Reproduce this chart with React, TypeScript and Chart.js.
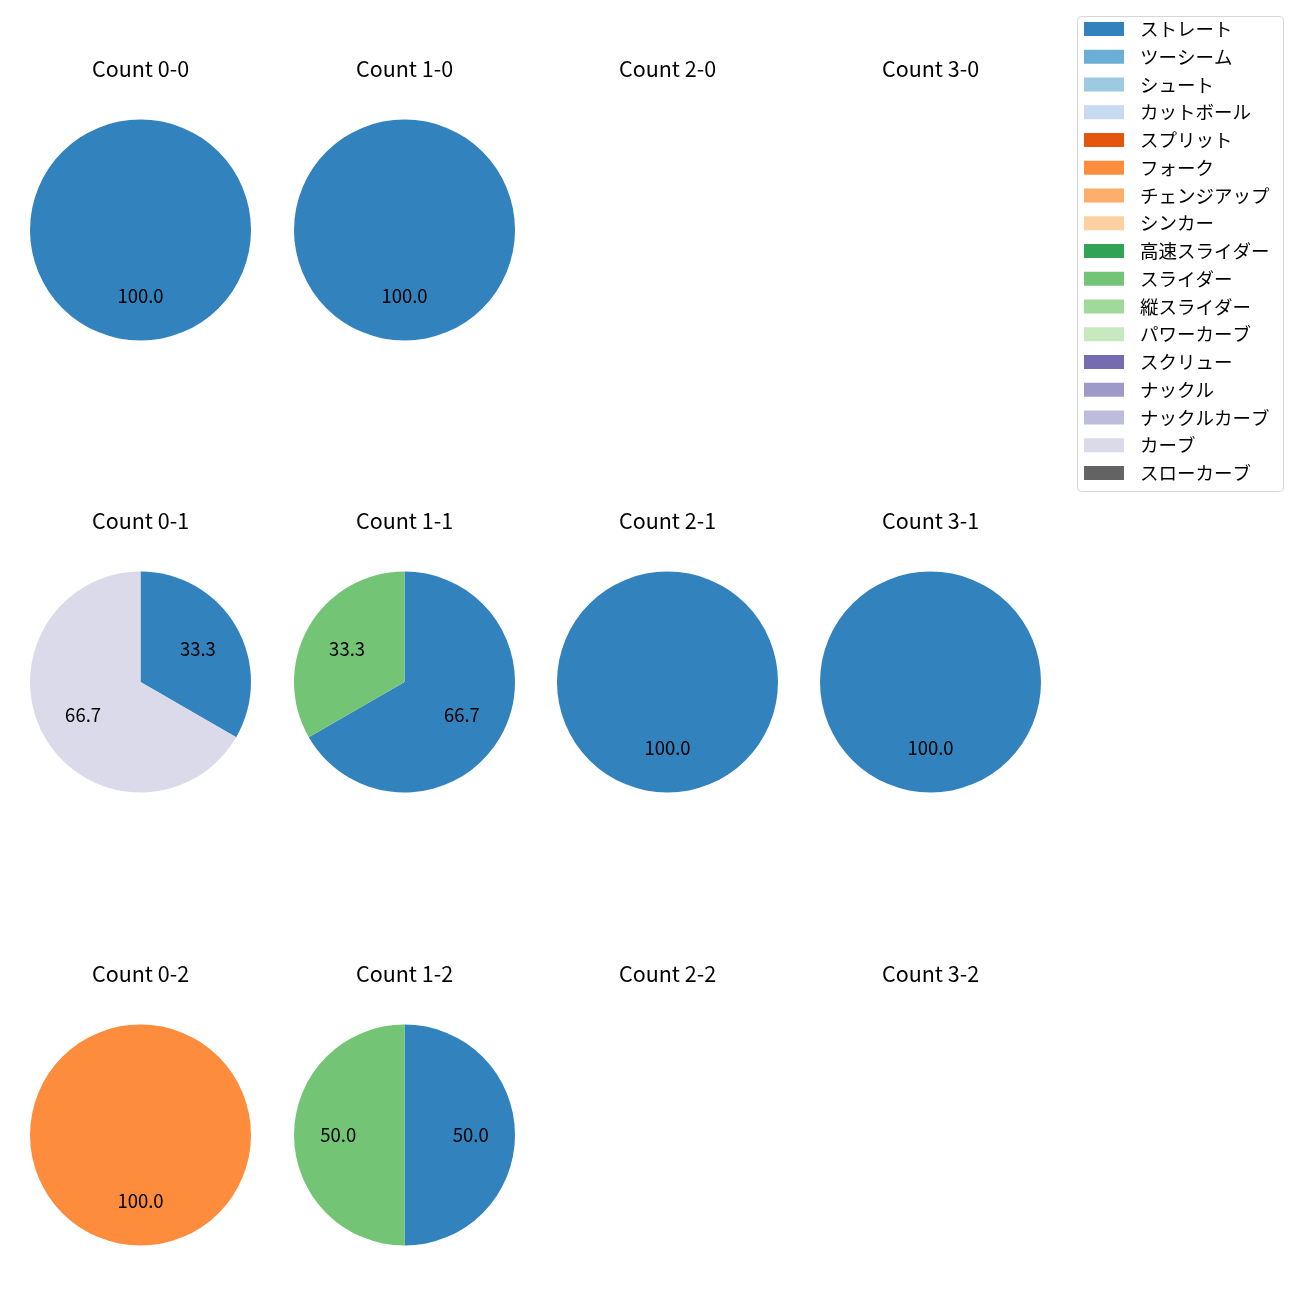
import React, { useEffect, useRef } from "react";
import { Chart, registerables } from "chart.js";

Chart.register(...registerables);

const pitchTypes = [
  "ストレート", "ツーシーム", "シュート", "カットボール", "スプリット", "フォーク",
  "チェンジアップ", "シンカー", "高速スライダー", "スライダー", "縦スライダー",
  "パワーカーブ", "スクリュー", "ナックル", "ナックルカーブ", "カーブ", "スローカーブ",
];
const pitchColors = [
  "#3182bd", "#6baed6", "#9ecae1", "#c6dbef", "#e6550d", "#fd8d3c",
  "#fdae6b", "#fdd0a2", "#31a354", "#74c476", "#a1d99b", "#c7e9c0",
  "#756bb1", "#9e9ac8", "#bcbddc", "#dadaeb", "#636363",
];

const balls = [0, 1, 2, 3];
const strikes = [0, 1, 2];

// pitches thrown in each ball-strike count
const count00 = { ストレート: 1 };
const count10 = { ストレート: 1 };
const count20 = {};
const count30 = {};
const count01 = { ストレート: 1, カーブ: 2 };
const count11 = { ストレート: 2, スライダー: 1 };
const count21 = { ストレート: 1 };
const count31 = { ストレート: 1 };
const count02 = { フォーク: 1 };
const count12 = { ストレート: 1, スライダー: 1 };
const count22 = {};
const count32 = {};

const countData: Record<string, Record<string, number>> = {
  "0-0": count00, "1-0": count10, "2-0": count20, "3-0": count30,
  "0-1": count01, "1-1": count11, "2-1": count21, "3-1": count31,
  "0-2": count02, "1-2": count12, "2-2": count22, "3-2": count32,
};

const FONT = '"Noto Sans CJK JP", "Noto Sans", sans-serif';
const colCenters = [140.5, 404, 667, 930];
const rowCenters = [229.5, 682, 1134.5];
const R = 110.5;
const CW = 263;
const CH = 400;

const pctPlugin = {
  id: "pctLabels",
  afterDatasetsDraw(chart: any) {
    const ds = chart.data.datasets[0].data as number[];
    const total = ds.reduce((a, b) => a + b, 0);
    if (!total) return;
    const meta = chart.getDatasetMeta(0);
    const ctx = chart.ctx;
    ctx.save();
    ctx.font = `18.5px ${FONT}`;
    ctx.fillStyle = "#000";
    ctx.textAlign = "center";
    ctx.textBaseline = "middle";
    meta.data.forEach((arc: any, i: number) => {
      const v = ds[i];
      if (!v) return;
      const mid = (arc.startAngle + arc.endAngle) / 2;
      const x = arc.x + 0.6 * arc.outerRadius * Math.cos(mid);
      const y = arc.y + 0.6 * arc.outerRadius * Math.sin(mid);
      ctx.fillText(((v / total) * 100).toFixed(1), x, y);
    });
    ctx.restore();
  },
};

const titlePlugin = {
  id: "cellTitle",
  afterDraw(chart: any) {
    const t = chart.options.plugins.cellTitle?.text;
    if (!t) return;
    const ctx = chart.ctx;
    ctx.save();
    ctx.font = `21.5px ${FONT}`;
    ctx.fillStyle = "#000";
    ctx.textAlign = "center";
    ctx.textBaseline = "middle";
    ctx.fillText(t, CW / 2, CH / 2 - (rowCenters[0] - 68.5));
    ctx.restore();
  },
};

const legendPlugin = {
  id: "boxLegend",
  afterDraw(chart: any) {
    const ctx = chart.ctx;
    const labels = chart.data.labels as string[];
    const colors = chart.data.datasets[0].backgroundColor as string[];
    ctx.save();
    const bx = 7.5, by = 6.5, bw = 206, bh = 475, rr = 4;
    ctx.beginPath();
    ctx.moveTo(bx + rr, by);
    ctx.lineTo(bx + bw - rr, by);
    ctx.arcTo(bx + bw, by, bx + bw, by + rr, rr);
    ctx.lineTo(bx + bw, by + bh - rr);
    ctx.arcTo(bx + bw, by + bh, bx + bw - rr, by + bh, rr);
    ctx.lineTo(bx + rr, by + bh);
    ctx.arcTo(bx, by + bh, bx, by + bh - rr, rr);
    ctx.lineTo(bx, by + rr);
    ctx.arcTo(bx, by, bx + rr, by, rr);
    ctx.closePath();
    ctx.fillStyle = "rgba(255,255,255,0.8)";
    ctx.fill();
    ctx.strokeStyle = "#d6d6d6";
    ctx.lineWidth = 1;
    ctx.stroke();
    ctx.font = `18.5px ${FONT}`;
    ctx.textBaseline = "middle";
    ctx.textAlign = "left";
    labels.forEach((lab, i) => {
      const y = 19 + i * 27.75;
      ctx.fillStyle = colors[i];
      ctx.fillRect(14, y - 7, 40, 14);
      ctx.fillStyle = "#000";
      ctx.fillText(lab, 70, y);
    });
    ctx.restore();
  },
};

export default function App() {
  const cellRefs = useRef<(HTMLCanvasElement | null)[]>([]);
  const legendRef = useRef<HTMLCanvasElement | null>(null);

  useEffect(() => {
    document.body.style.margin = "0";
    const charts: Chart[] = [];
    strikes.forEach((s, ri) => {
      balls.forEach((b, ci) => {
        const key = `${b}-${s}`;
        const canvas = cellRefs.current[ri * 4 + ci];
        if (!canvas) return;
        const d = countData[key];
        const values = pitchTypes.map((p) => d[p] || 0);
        const padX = (CW - 2 * R) / 2;
        const padY = (CH - 2 * R) / 2;
        charts.push(
          new Chart(canvas, {
            type: "pie",
            data: {
              labels: pitchTypes,
              datasets: [{ data: values, backgroundColor: pitchColors, borderWidth: 0 }],
            },
            options: {
              animation: false,
              responsive: false,
              events: [],
              layout: { padding: { left: padX, right: padX, top: padY, bottom: padY } },
              plugins: {
                legend: { display: false },
                tooltip: { enabled: false },
                cellTitle: { text: `Count ${key}` },
              } as any,
            },
            plugins: [pctPlugin, titlePlugin],
          })
        );
      });
    });
    if (legendRef.current) {
      charts.push(
        new Chart(legendRef.current, {
          type: "pie",
          data: {
            labels: pitchTypes,
            datasets: [{ data: pitchTypes.map(() => 0), backgroundColor: pitchColors, borderWidth: 0 }],
          },
          options: {
            animation: false,
            responsive: false,
            events: [],
            plugins: { legend: { display: false }, tooltip: { enabled: false } },
          },
          plugins: [legendPlugin],
        })
      );
    }
    return () => charts.forEach((c) => c.destroy());
  }, []);

  const cells: React.ReactNode[] = [];
  strikes.forEach((s, ri) => {
    balls.forEach((b, ci) => {
      const idx = ri * 4 + ci;
      cells.push(
        <canvas
          key={idx}
          ref={(el) => { cellRefs.current[idx] = el; }}
          width={CW}
          height={CH}
          style={{
            position: "absolute",
            left: colCenters[ci] - CW / 2,
            top: rowCenters[ri] - CH / 2,
            width: CW,
            height: CH,
          }}
        />
      );
    });
  });

  return (
    <div style={{ position: "relative", width: 1300, height: 1300, background: "#fff", overflow: "hidden" }}>
      {cells}
      <canvas
        ref={legendRef}
        width={220}
        height={490}
        style={{ position: "absolute", left: 1070, top: 10, width: 220, height: 490 }}
      />
    </div>
  );
}
